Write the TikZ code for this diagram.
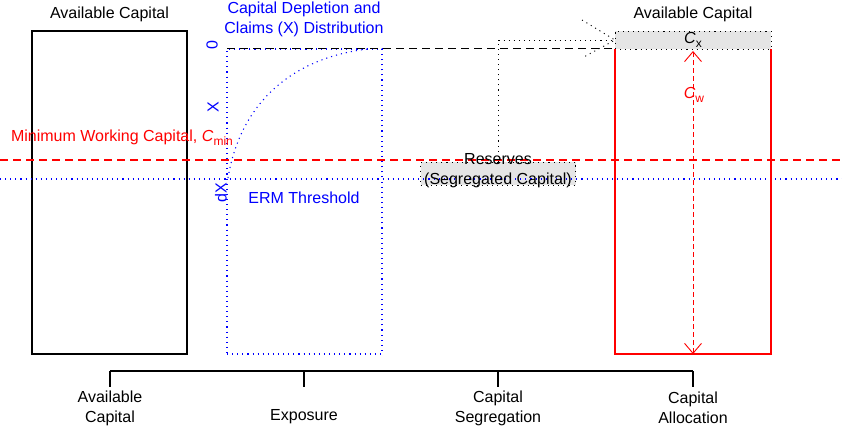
\documentclass[tikz,border=0pt]{standalone}
\usepackage{fontspec}
\setmainfont{Liberation Sans}
\usetikzlibrary{calc,arrows.meta}
\newcommand{\capsub}[2]{\textit{#1}\raisebox{-0.45ex}{\fontsize{12}{12}\selectfont #2}}

\begin{document}
\begin{tikzpicture}[x=1pt,y=-1pt, every node/.style={font=\fontsize{16}{20}\selectfont,inner sep=0pt,outer sep=0pt},
  capbox/.style={draw,minimum width=155pt,minimum height=#1},
  dots/.style={dash pattern=on 1.1pt off 4pt,line width=1.1pt},
  bracket/.style={line width=2pt}]
\useasboundingbox (0,0) rectangle (842,430);
\node[capbox=323pt,line width=1.4pt] (avail) at (109.5,192.5) {};
\node (availlbl) at (109.5,14) {Available Capital};
\node[capbox=305pt,draw=blue,dots] (expo) at (304.5,201.5) {};
\node[blue,align=center] (expolbl) at (304,19) {Capital Depletion and\\Claims (X) Distribution};
\node[blue,rotate=90] (zero) at (212,45) {0};
\node[blue,rotate=90] (xlbl) at (213,107) {X};
\node[blue,rotate=90] (dx) at (221,193) {dX};
\node[blue] (erm) at (304,198) {ERM Threshold};
\node[red,anchor=base west] (cmin) at (11,142) {Minimum Working Capital, \capsub{C}{min}};
\node[fill=gray!20,minimum width=155pt,minimum height=23pt,draw,dots,line width=0.8pt] (res) at (498,173.5) {};
\node[fill=gray!20,draw,dots,line width=0.9pt,minimum width=156pt,minimum height=18pt] (cx) at (693,40) {\capsub{C}{x}};
\node (alloclbl) at (693,14) {Available Capital};
\draw[blue,dots] (228,178) .. controls (240,105) and (290,58) .. (368,49);
\draw[red,line width=2.2pt,dash pattern=on 8pt off 5pt] (0,160) -- (842,160);
\draw[blue,dots] (0,179) -- (842,179);
\node[align=center] (reslbl) at (498,171) {Reserves\\(Segregated Capital)};
\draw[line width=1pt,dash pattern=on 8pt off 5pt] (expo.north west) -- (cx.south west);
\coordinate (segtop) at (498,40);
\draw[dots,line width=0.9pt] (res.north) -- (segtop) -- (cx.west);
\draw[dots,line width=0.9pt] ($(cx.west)+(-33,-20)$) -- (cx.west) -- ($(cx.west)+(-33,18)$);
\draw[red,line width=2.2pt] (cx.south west) -- ++(0,305) -| (cx.south east);
\coordinate (cwbot) at (693,354);
\draw[red,line width=0.9pt,dash pattern=on 5pt off 3pt,{Straight Barb[length=10pt,width=17pt]}-{Straight Barb[length=10pt,width=17pt]}] ($(cx.south)+(0,2)$) -- (cwbot);
\node[red] (cw) at (694,95) {\capsub{C}{w}};
\node[align=center] (lblavail) at (110,408) {Available\\Capital};
\node (lblexpo) at (304,417) {Exposure};
\node[align=center] (lblseg) at (498,408) {Capital\\Segregation};
\node[align=center] (lblalloc) at (693,408) {Capital\\Allocation};
\coordinate (rail) at (0,371);
\coordinate (railend) at (0,387);
\draw[bracket] (lblavail |- rail) -- (lblalloc |- rail);
\foreach \n in {lblavail,lblexpo,lblseg,lblalloc}
  \draw[bracket] (\n |- rail) -- (\n |- railend);
\end{tikzpicture}
\end{document}
